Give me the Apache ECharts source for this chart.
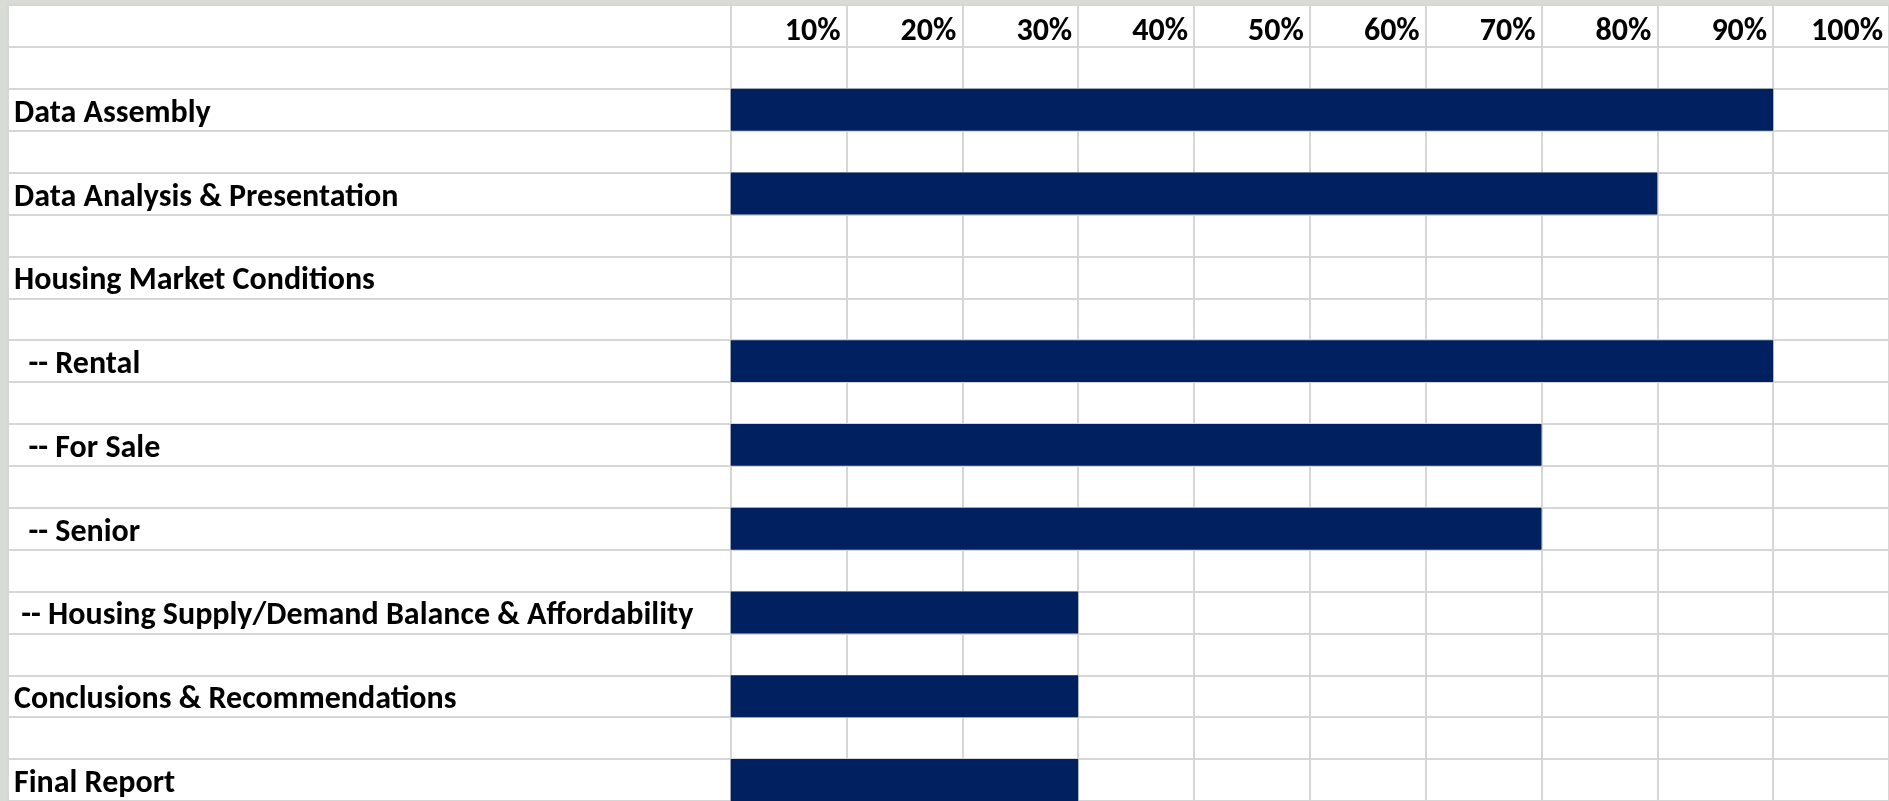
<!DOCTYPE html>
<html>
<head>
<meta charset="utf-8">
<script src="https://cdn.jsdelivr.net/npm/echarts@6/dist/echarts.min.js"></script>
<style>
  html, body { margin: 0; padding: 0; background: #d9dcd6; overflow: hidden; }
  #chart { width: 1889px; height: 801px; }
</style>
</head>
<body>
<div id="chart"></div>
<script>
// ---- data ----
const tasks = [
  'Data Assembly',
  'Data Analysis & Presentation',
  'Housing Market Conditions',
  '  -- Rental',
  '  -- For Sale',
  '  -- Senior',
  ' -- Housing Supply/Demand Balance & Affordability',
  'Conclusions & Recommendations',
  'Final Report'
];
const progress = [90, 80, 0, 90, 70, 70, 30, 30, 30];
const percentTicks = [10, 20, 30, 40, 50, 60, 70, 80, 90, 100];

// spreadsheet rows: header row, then a blank row before every task row
const rowLabels = [''];
const rowValues = [null];
tasks.forEach((t, i) => {
  rowLabels.push('');
  rowValues.push(null);
  rowLabels.push(t);
  rowValues.push(progress[i] > 0 ? progress[i] : null);
});

const FONT = 'Calibri, Carlito, Lato, sans-serif';
const LINE = '#d6d6d6';
const ROW_H = 42.1;
const COL_W = 116.4;
const TOP = 5;
const LABEL_LEFT = 8;
const DATA_LEFT = 730.7;
const H = ROW_H * rowLabels.length;

const chart = echarts.init(document.getElementById('chart'), null, { renderer: 'canvas' });
chart.setOption({
  backgroundColor: '#d9dcd6',
  animation: false,
  grid: [
    { left: LABEL_LEFT, top: TOP, width: DATA_LEFT - LABEL_LEFT, height: H,
      show: true, backgroundColor: '#ffffff', borderWidth: 0, containLabel: false },
    { left: DATA_LEFT, top: TOP, width: COL_W * 10, height: H,
      show: true, backgroundColor: '#ffffff', borderWidth: 0, containLabel: false }
  ],
  xAxis: [
    { gridIndex: 0, type: 'value', min: 0, max: 1, show: false },
    { gridIndex: 1, type: 'value', min: 0, max: 100, interval: 10, position: 'top',
      axisLine: { show: false }, axisTick: { show: false },
      splitLine: { show: true, lineStyle: { color: LINE, width: 2 } },
      axisLabel: {
        show: true, inside: true, margin: 27, showMinLabel: false,
        align: 'right', verticalAlign: 'middle', padding: [0, 6, 0, 0],
        fontFamily: FONT, fontWeight: 'bold', fontSize: 32, color: '#000',
        formatter: v => (percentTicks.indexOf(v) >= 0 ? v + '%' : '')
      }
    }
  ],
  yAxis: [
    { gridIndex: 0, type: 'category', data: rowLabels, inverse: true,
      axisLine: { show: true, lineStyle: { color: LINE, width: 2 } },
      axisTick: { show: false },
      splitLine: { show: true, lineStyle: { color: LINE, width: 2 } },
      axisLabel: {
        show: true, inside: true, margin: 6, align: 'left', verticalAlign: 'top',
        lineHeight: 8, interval: 0,
        fontFamily: FONT, fontWeight: 'bold', fontSize: 32, color: '#000'
      }
    },
    { gridIndex: 1, type: 'category', data: rowLabels, inverse: true,
      axisLine: { show: false }, axisTick: { show: false }, axisLabel: { show: false },
      splitLine: { show: true, lineStyle: { color: LINE, width: 2 } }
    }
  ],
  series: [
    { type: 'bar', xAxisIndex: 1, yAxisIndex: 1, data: rowValues,
      barWidth: '100%', barCategoryGap: 0,
      itemStyle: { color: '#002060' }, silent: true }
  ]
});
</script>
</body>
</html>
